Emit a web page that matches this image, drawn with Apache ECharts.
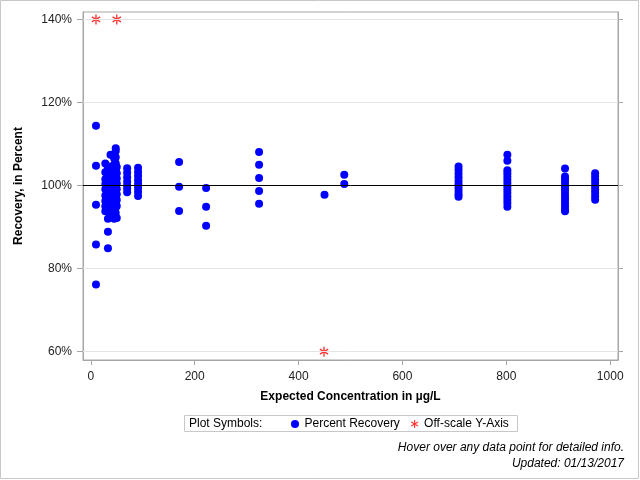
<!DOCTYPE html>
<html>
<head>
<meta charset="UTF-8">
<title>Recovery</title>
<script src="https://cdn.jsdelivr.net/npm/echarts@6/dist/echarts.min.js"></script>
<style>
    html, body { margin: 0; padding: 0; background: #fff; }
    #main { width: 640px; height: 480px; }
</style>
</head>
<body>
<div id="main"></div>
<script>
// expected concentration (ug/L) of each group of samples
var concentrations = [10, 28, 33, 38, 45, 48, 50, 70, 91, 170, 222, 324, 450, 488, 708, 802, 913, 971];
// percent recovery per group, same order as concentrations
var recoveries = [
    [114.4, 104.8, 95.4, 85.8, 76.2],
    [105.3, 103.2, 101.5, 100.4, 99.1, 97.6, 96.3, 95.0, 93.8],
    [104.2, 102.8, 101.8, 100.6, 99.5, 98.2, 97.0, 95.4, 94.1, 92.0, 88.9, 84.9],
    [107.4, 104.6, 103.0, 101.2, 100.2, 99.0, 97.5, 96.2, 94.6, 93.2],
    [106.5, 105.0, 103.4, 102.1, 100.8, 99.6, 98.4, 97.1, 95.8, 94.5, 93.0, 92.0],
    [109.0, 108.3, 106.8, 105.4, 104.0, 102.6, 101.3, 100.0, 98.8, 97.4, 96.0, 94.7, 93.4],
    [104.5, 103.0, 101.7, 100.5, 99.2, 97.9, 96.5, 95.1, 92.2],
    [104.2, 103.1, 102.0, 101.0, 100.1, 99.3, 98.4],
    [104.3, 103.3, 102.3, 101.3, 100.4, 99.5, 98.5, 97.5],
    [105.7, 99.7, 93.9],
    [99.4, 94.9, 90.3],
    [108.1, 105.0, 101.8, 98.7, 95.6],
    [97.8],
    [102.6, 100.4],
    [104.6, 103.8, 102.9, 102.0, 101.1, 100.3, 99.5, 98.7, 97.9, 97.3],
    [107.4, 106.0, 103.7, 103.0, 102.2, 101.4, 100.6, 99.8, 99.0, 98.2, 97.4, 96.6, 95.8, 94.9],
    [104.1, 102.2, 101.4, 100.6, 99.8, 99.0, 98.2, 97.4, 96.6, 95.8, 95.0, 94.2, 93.8],
    [103.0, 102.2, 101.4, 100.6, 99.8, 99.0, 98.2, 97.4, 96.6]
];
// points outside the y range, drawn at the edge
var offScaleX = [10, 50, 449];
var offScaleY = [140, 140, 60];

var xTicks = [0, 200, 400, 600, 800, 1000];
var yTicks = [60, 80, 100, 120, 140];
var gridValues = [60, 80, 120, 140];

var recoveryData = [];
for (var i = 0; i < concentrations.length; i++) {
    for (var j = 0; j < recoveries[i].length; j++) {
        recoveryData.push([concentrations[i], recoveries[i][j]]);
    }
}
var offScaleData = offScaleX.map(function (x, k) { return [x, offScaleY[k]]; });

var starPath = 'path://M-0.7,-5L0.7,-5L0.7,5L-0.7,5Z' +
    'M3.98,-3.11L4.68,-1.89L-3.98,3.11L-4.68,1.89Z' +
    'M-4.68,-1.89L-3.98,-3.11L4.68,1.89L3.98,3.11Z';

var font = 'Liberation Sans, Arial, sans-serif';

var refLines = gridValues.map(function (v) {
    return { yAxis: v, lineStyle: { color: '#e4e4e4', width: 1, type: 'solid' } };
});
refLines.push({ yAxis: 100, lineStyle: { color: '#000', width: 1, type: 'solid' } });

var myChart = echarts.init(document.getElementById('main'));

var option = {
    animation: false,
    backgroundColor: '#fff',
    textStyle: { fontFamily: font },
    grid: {
        left: 83, right: 22, top: 12, bottom: 120,
        show: true, borderColor: '#a6a6a6', borderWidth: 1
    },
    legend: {
        left: 289, top: 416, padding: 2,
        itemWidth: 9, itemHeight: 8, itemGap: 11,
        textStyle: { fontSize: 12, color: '#000', fontFamily: font },
        data: [
            { name: 'Percent Recovery', icon: 'circle' },
            { name: 'Off-scale Y-Axis', icon: starPath }
        ]
    },
    xAxis: {
        type: 'value',
        min: -15, max: 1015,
        name: 'Expected Concentration in µg/L',
        nameLocation: 'middle', nameGap: 31,
        nameTextStyle: { fontSize: 12, fontWeight: 'bold', color: '#000', fontFamily: font },
        axisLine: { show: true, onZero: false, lineStyle: { color: '#a6a6a6' } },
        axisTick: { show: true, length: 5, customValues: xTicks, lineStyle: { color: '#a6a6a6' } },
        axisLabel: { customValues: xTicks, margin: 11, fontSize: 12, color: '#222', fontFamily: font,
            formatter: function (v) { return String(v); } },
        splitLine: { show: false }
    },
    yAxis: [{
        type: 'value',
        min: 58, max: 141.8,
        name: 'Recovery, in Percent',
        nameLocation: 'middle', nameGap: 58,
        nameTextStyle: { fontSize: 12, fontWeight: 'bold', color: '#000', fontFamily: font },
        axisLine: { show: true, onZero: false, lineStyle: { color: '#a6a6a6' } },
        axisTick: { show: true, length: 6, customValues: yTicks, lineStyle: { color: '#a6a6a6' } },
        axisLabel: { customValues: yTicks, margin: 11, fontSize: 12, color: '#222', fontFamily: font,
            formatter: '{value}%' },
        splitLine: { show: false }
    }, {
        type: 'value',
        position: 'right',
        min: 58, max: 141.8,
        axisLine: { show: true, onZero: false, lineStyle: { color: '#a6a6a6' } },
        axisTick: { show: true, length: 5, customValues: yTicks, lineStyle: { color: '#a6a6a6' } },
        axisLabel: { show: false },
        splitLine: { show: false }
    }],
    graphic: [
        { type: 'rect', silent: true, shape: { x: 0.5, y: 0.5, width: 638, height: 478 },
          style: { fill: 'none', stroke: '#c8c8c8', lineWidth: 1 } },
        { type: 'rect', silent: true, shape: { x: 184.5, y: 415.5, width: 333, height: 16 },
          style: { fill: 'none', stroke: '#c8c8c8', lineWidth: 1 } },
        { type: 'text', silent: true, left: 189, top: 418,
          style: { text: 'Plot Symbols:', fontSize: 12, fill: '#000', fontFamily: font } },
        { type: 'text', silent: true, right: 16, top: 442,
          style: { text: 'Hover over any data point for detailed info.', fontSize: 12, fontStyle: 'italic',
                   fill: '#000', fontFamily: font, align: 'right' } },
        { type: 'text', silent: true, right: 16, top: 458,
          style: { text: 'Updated: 01/13/2017', fontSize: 12, fontStyle: 'italic',
                   fill: '#000', fontFamily: font, align: 'right' } }
    ],
    series: [{
        name: 'Off-scale Y-Axis',
        type: 'scatter',
        z: 1,
        symbol: starPath,
        symbolSize: [9, 10],
        itemStyle: { color: '#ff0000' },
        data: offScaleData,
        markLine: {
            silent: true,
            symbol: 'none',
            label: { show: false },
            data: refLines
        }
    }, {
        name: 'Percent Recovery',
        type: 'scatter',
        z: 3,
        symbol: 'circle',
        symbolSize: 8,
        itemStyle: { color: '#0000ff', opacity: 1 },
        data: recoveryData
    }]
};

myChart.setOption(option);
</script>
</body>
</html>
